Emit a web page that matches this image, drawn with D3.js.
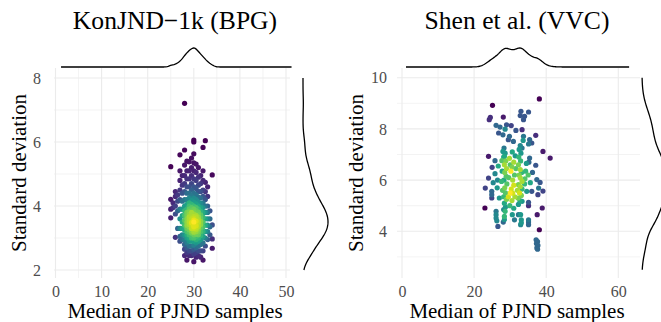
<!DOCTYPE html>
<html>
<head>
<meta charset="utf-8">
<script src="https://cdn.jsdelivr.net/npm/d3@7"></script>
<style>
body { margin: 0; background: #fff; }
text { font-family: "Liberation Serif", "Times New Roman", serif; }
</style>
</head>
<body>
<svg id="chart" width="661" height="322"></svg>
<script>
// KonJND-1k (BPG): points read column by column, [median, [sd values]]
var konjndCols = [
    [25, [5.23, 4.21, 3.9, 3.63]],
    [25.5, [3.95, 4.1]],
    [26, [3.02, 4.45, 4.3, 4.0, 3.75]],
    [26.5, [4.35, 4.15, 3.85, 3.3]],
    [27, [5.6, 5.1, 4.8, 4.5, 4.2, 3.9, 3.6, 3.3, 3.05, 2.9]],
    [27.5, [4.95, 4.65, 4.4, 4.15, 3.9, 3.7, 3.5, 3.3, 3.1, 2.95]],
    [28, [7.21, 5.75, 5.28, 4.95, 4.7, 4.45, 4.2, 4.0, 3.85, 3.7, 3.55, 3.4, 3.25, 3.1, 2.95, 2.8, 2.65, 2.45]],
    [28.5, [5.4, 5.1, 4.85, 4.6, 4.4, 4.2, 4.05, 3.9, 3.8, 3.7, 3.6, 3.5, 3.4, 3.3, 3.2, 3.1, 3.0, 2.85, 2.7, 2.55, 2.31]],
    [29, [5.38, 5.1, 4.85, 4.6, 4.4, 4.25, 4.1, 4.0, 3.9, 3.82, 3.74, 3.66, 3.58, 3.5, 3.42, 3.34, 3.26, 3.18, 3.1, 3.0, 2.9, 2.75, 2.6, 2.45]],
    [29.5, [5.5, 5.2, 4.95, 4.7, 4.5, 4.32, 4.18, 4.05, 3.95, 3.87, 3.8, 3.73, 3.66, 3.6, 3.54, 3.48, 3.42, 3.36, 3.3, 3.23, 3.16, 3.08, 3.0, 2.9, 2.75, 2.6, 2.45]],
    [30, [6.06, 6.0, 5.63, 5.35, 5.1, 4.85, 4.6, 4.4, 4.25, 4.12, 4.0, 3.9, 3.82, 3.75, 3.68, 3.62, 3.56, 3.5, 3.45, 3.4, 3.35, 3.3, 3.24, 3.18, 3.1, 3.0, 2.9, 2.78, 2.65, 2.5, 2.26]],
    [30.5, [5.31, 5.05, 4.8, 4.55, 4.35, 4.2, 4.07, 3.95, 3.86, 3.78, 3.71, 3.65, 3.59, 3.53, 3.48, 3.43, 3.38, 3.33, 3.27, 3.2, 3.12, 3.04, 2.95, 2.85, 2.7, 2.55, 2.4]],
    [31, [5.2, 4.9, 4.65, 4.45, 4.28, 4.12, 4.0, 3.9, 3.81, 3.73, 3.65, 3.57, 3.5, 3.43, 3.36, 3.28, 3.2, 3.1, 3.0, 2.9, 2.75, 2.6, 2.45]],
    [31.5, [4.95, 4.7, 4.45, 4.25, 4.08, 3.95, 3.83, 3.72, 3.62, 3.52, 3.42, 3.32, 3.2, 3.08, 2.95, 2.8, 2.6, 2.4]],
    [32, [5.83, 5.1, 4.8, 4.5, 4.3, 4.1, 3.95, 3.8, 3.65, 3.5, 3.35, 3.2, 3.05, 2.85, 2.6, 2.31]],
    [32.5, [6.04, 4.74, 4.45, 4.2, 4.0, 3.8, 3.6, 3.4, 3.2, 3.0, 2.75]],
    [33, [4.6, 4.3, 4.0, 3.8, 3.6, 3.4, 3.2, 2.95]],
    [33.5, [3.85, 3.6, 3.35, 3.1]],
    [34, [4.97, 3.41, 2.97, 2.68]]
];

// Shen et al. (VVC): [median, sd]
var shenPoints = [
    [25.1, 8.92], [24.2, 8.36], [24.5, 8.45], [28.1, 8.46], [38.1, 9.17],
    [26.1, 8.14], [33.0, 8.69], [35.1, 8.66], [32.8, 8.52], [34.0, 8.49], [33.7, 8.36],
    [29.0, 8.16], [30.3, 8.13], [27.2, 8.07], [28.6, 7.99], [31.6, 7.94], [33.3, 7.97],
    [26.8, 7.84], [28.0, 7.77], [29.5, 7.58], [30.9, 7.51], [29.8, 7.71], [33.7, 7.71],
    [33.6, 7.55], [35.4, 7.58], [37.1, 7.75], [33.3, 7.25], [35.1, 7.41], [36.0, 7.45],
    [35.4, 6.86], [39.1, 7.12], [41.1, 6.86], [24.0, 6.93], [28.0, 7.12], [28.4, 6.93],
    [27.7, 6.76], [25.8, 6.76],
    [28.3, 7.25], [28.6, 7.05], [28.2, 6.9], [28.8, 6.75], [28.4, 6.6], [29.0, 6.45],
    [28.5, 6.3], [27.8, 6.35], [28.9, 6.15], [28.3, 6.0], [27.6, 5.95], [29.1, 5.85],
    [28.5, 5.7], [27.9, 5.6], [28.7, 5.5], [28.2, 5.35], [29.0, 5.25], [28.4, 5.1],
    [28.7, 4.95], [28.2, 4.85], [28.6, 4.78], [28.4, 4.58], [28.4, 4.46], [28.1, 4.36],
    [32.8, 7.35], [32.5, 7.2], [33.0, 7.05], [32.4, 6.9], [32.9, 6.75], [32.3, 6.6],
    [32.8, 6.41], [33.2, 6.3], [32.5, 6.2], [32.8, 6.09], [33.3, 5.95], [32.3, 5.82],
    [32.8, 5.75], [33.3, 5.65], [32.0, 5.6], [32.6, 5.5], [33.1, 5.4], [32.2, 5.3],
    [32.7, 5.2], [32.3, 5.05], [33.3, 5.17],
    [30.5, 6.51], [30.0, 6.6], [31.0, 6.7], [30.2, 6.35], [31.2, 6.2], [30.7, 6.0],
    [30.0, 5.5], [30.7, 5.49], [30.3, 5.65], [31.0, 5.8], [31.3, 5.35], [30.5, 5.2],
    [29.8, 6.85], [31.4, 6.95], [30.6, 7.1], [29.9, 5.0], [31.0, 4.9], [29.6, 6.1],
    [31.6, 6.45], [29.5, 5.35],
    [34.6, 5.56], [36.0, 5.56], [35.1, 5.13], [35.1, 5.0], [34.3, 6.35], [35.0, 6.2],
    [35.6, 5.9], [34.5, 6.65], [34.0, 5.85], [35.2, 6.7], [34.1, 6.05], [36.2, 6.3],
    [37.4, 6.02], [38.3, 5.91], [37.9, 5.69], [39.1, 5.57], [37.7, 5.43], [37.1, 6.58],
    [38.9, 4.91], [37.5, 4.65], [38.1, 4.06],
    [25.0, 6.5], [25.8, 6.25], [26.5, 6.0], [25.3, 5.9], [26.7, 6.55], [27.0, 5.3],
    [26.4, 5.7], [24.0, 6.08], [23.1, 5.69], [23.0, 4.91],
    [24.9, 5.56], [24.9, 5.43], [24.9, 5.3], [26.1, 4.78], [26.1, 4.65], [26.1, 4.52],
    [26.3, 4.41], [26.6, 4.19],
    [32.3, 4.65], [32.9, 4.65], [33.1, 4.45], [33.1, 4.33], [32.9, 4.26], [35.1, 4.45],
    [35.1, 4.36], [35.1, 4.26], [30.6, 4.65], [31.2, 4.45],
    [37.2, 3.67], [37.6, 3.6], [37.3, 3.52], [37.7, 3.45], [37.4, 3.35], [37.6, 3.3]
];

var titles = ['KonJND\u22121k (BPG)', 'Shen et al. (VVC)'];
var xLabel = 'Median of PJND samples';
var yLabel = 'Standard deviation';

var konjndXTicks = [0, 10, 20, 30, 40, 50];
var konjndYTicks = [2, 4, 6, 8];
var shenXTicks = [0, 20, 40, 60];
var shenYTicks = [4, 6, 8, 10];

var konjndPoints = [];
konjndCols.forEach(function(c){
    c[1].forEach(function(v){ konjndPoints.push([c[0], v]); });
});

var svg = d3.select('#chart');
svg.append('rect').attr('width', 661).attr('height', 322).attr('fill', '#fff');

function kde(values, lo, hi){
    var s = values.slice().sort(d3.ascending);
    var iqr = d3.quantile(s, 0.75) - d3.quantile(s, 0.25);
    var bw = 0.9 * Math.min(d3.deviation(s), iqr / 1.34) * Math.pow(s.length, -0.2);
    return d3.range(0, 201).map(function(i){
        var t = lo + (hi - lo) * i / 200;
        var sum = 0;
        s.forEach(function(v){ var u = (t - v) / bw; sum += Math.exp(-0.5 * u * u); });
        return [t, sum / (s.length * bw * Math.sqrt(2 * Math.PI))];
    });
}

function drawPanel(p){
    var g = svg.append('g');
    var x = d3.scaleLinear().domain(p.xDomain).range(p.xRange);
    var y = d3.scaleLinear().domain(p.yDomain).range(p.yRange);

    var xMinor = p.xTicks.slice(1).map(function(d, i){ return (d + p.xTicks[i]) / 2; });

    // grid
    g.selectAll('line.xminor').data(xMinor).enter().append('line')
        .attr('x1', function(d){ return x(d); }).attr('x2', function(d){ return x(d); })
        .attr('y1', p.panelY[0]).attr('y2', p.panelY[1])
        .attr('stroke', '#EBEBEB').attr('stroke-width', 0.6);
    g.selectAll('line.yminor').data(p.yMinor).enter().append('line')
        .attr('y1', function(d){ return y(d); }).attr('y2', function(d){ return y(d); })
        .attr('x1', p.panelX[0]).attr('x2', p.panelX[1])
        .attr('stroke', '#EBEBEB').attr('stroke-width', 0.6);
    g.selectAll('line.xmajor').data(p.xTicks).enter().append('line')
        .attr('x1', function(d){ return x(d); }).attr('x2', function(d){ return x(d); })
        .attr('y1', p.panelY[0]).attr('y2', p.panelY[1])
        .attr('stroke', '#EBEBEB').attr('stroke-width', 1.1);
    g.selectAll('line.ymajor').data(p.yTicks).enter().append('line')
        .attr('y1', function(d){ return y(d); }).attr('y2', function(d){ return y(d); })
        .attr('x1', p.panelX[0]).attr('x2', p.panelX[1])
        .attr('stroke', '#EBEBEB').attr('stroke-width', 1.1);

    // axes (labels only)
    var xAxis = g.append('g').attr('transform', 'translate(0,' + p.panelY[1] + ')')
        .call(d3.axisBottom(x).tickValues(p.xTicks).tickFormat(d3.format('d'))
            .tickSize(0).tickPadding(8));
    var yAxis = g.append('g').attr('transform', 'translate(' + p.panelX[0] + ',0)')
        .call(d3.axisLeft(y).tickValues(p.yTicks).tickFormat(d3.format('d'))
            .tickSize(0).tickPadding(p.yPad));
    [xAxis, yAxis].forEach(function(a){
        a.attr('font-family', null).attr('font-size', null);
        a.select('.domain').remove();
        a.selectAll('text').attr('fill', '#4D4D4D')
            .style('font-family', 'Liberation Serif').style('font-size', '16px');
    });

    // points, coloured by neighbour count
    var pts = p.data.map(function(d){ return {px: x(d[0]), py: y(d[1])}; });
    pts.forEach(function(a){
        a.n = 0;
        pts.forEach(function(b){
            var dx = a.px - b.px, dy = a.py - b.py;
            if (dx * dx + dy * dy < p.radius * p.radius) a.n += 1;
        });
    });
    var nScale = d3.scalePow().exponent(p.colourExp)
        .domain(d3.extent(pts, function(d){ return d.n; })).range([0, 1]);
    pts.sort(function(a, b){ return a.n - b.n; });
    g.selectAll('circle').data(pts).enter().append('circle')
        .attr('cx', function(d){ return d.px; })
        .attr('cy', function(d){ return d.py; })
        .attr('r', 2.6)
        .attr('fill', function(d){ return d3.interpolateViridis(nScale(d.n)); });

    // marginal densities
    var topD = kde(p.data.map(function(d){ return d[0]; }), p.margX[0], p.margX[1]);
    var topMax = d3.max(topD, function(d){ return d[1]; });
    g.append('path').datum(topD)
        .attr('d', d3.line()
            .x(function(d){ return x(d[0]); })
            .y(function(d){ return p.topBase - d[1] / topMax * p.topH; }))
        .attr('fill', 'none').attr('stroke', '#000').attr('stroke-width', 1.3);

    var rightD = kde(p.data.map(function(d){ return d[1]; }), p.margY[0], p.margY[1]);
    var rightMax = d3.max(rightD, function(d){ return d[1]; });
    g.append('path').datum(rightD)
        .attr('d', d3.line()
            .x(function(d){ return p.rightBase + d[1] / rightMax * p.rightH; })
            .y(function(d){ return y(d[0]); }))
        .attr('fill', 'none').attr('stroke', '#000').attr('stroke-width', 1.3);

    // titles
    g.append('text').attr('x', p.titleX).attr('y', 29)
        .attr('text-anchor', 'middle').style('font-size', '25.6px').text(p.title);
    g.append('text').attr('x', p.titleX).attr('y', 318)
        .attr('text-anchor', 'middle').style('font-size', '21px').text(xLabel);
    g.append('text')
        .attr('transform', 'translate(' + p.yTitleX + ',' + ((p.panelY[0] + p.panelY[1]) / 2) + ') rotate(-90)')
        .attr('text-anchor', 'middle').style('font-size', '21px').text(yLabel);
}

drawPanel({
    data: konjndPoints, title: titles[0],
    xDomain: [0, 50], xRange: [55.5, 286], yDomain: [2, 8], yRange: [270, 78],
    panelX: [54, 290], panelY: [68, 278],
    xTicks: konjndXTicks, yTicks: konjndYTicks, yMinor: [3, 5, 7], yPad: 13,
    margX: [1.2, 51.2], margY: [2, 8],
    topBase: 67, topH: 19, rightBase: 303, rightH: 25,
    titleX: 175, yTitleX: 26, radius: 20, colourExp: 1.8
});

drawPanel({
    data: shenPoints, title: titles[1],
    xDomain: [0, 60], xRange: [402, 618.3], yDomain: [4, 10], yRange: [231.3, 77.7],
    panelX: [397, 640], panelY: [68, 278],
    xTicks: shenXTicks, yTicks: shenYTicks, yMinor: [3, 5, 7, 9], yPad: 10,
    margX: [1.1, 63], margY: [2.5, 10],
    topBase: 67, topH: 19, rightBase: 642, rightH: 26,
    titleX: 517, yTitleX: 363, radius: 10, colourExp: 1
});
</script>
</body>
</html>
